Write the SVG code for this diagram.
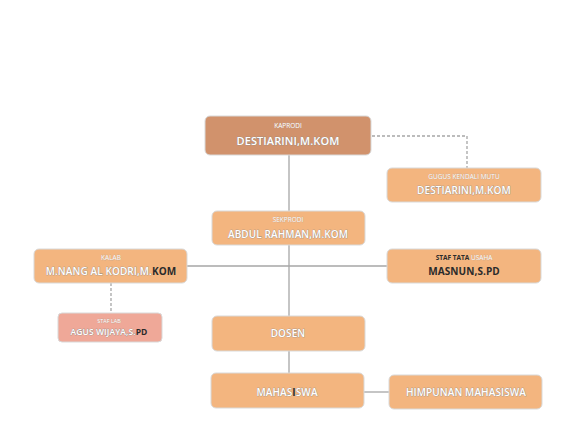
<svg xmlns="http://www.w3.org/2000/svg" width="577" height="433" viewBox="0 0 577 433">
<style>
.box{fill:#F3B57F;stroke:#D9D9D9;stroke-width:1}
.top{fill:#D1926C;stroke:#D9D9D9;stroke-width:1}
.pink{fill:#EFA898;stroke:#D9D9D9;stroke-width:1}
.lbl{font-family:"Open Sans","Liberation Sans",sans-serif;font-size:6.5px;fill:#ffffff;stroke:#b8a090;stroke-width:0.3;paint-order:stroke;text-anchor:middle}
.nm{font-family:"Open Sans","Liberation Sans",sans-serif;font-size:10px;font-weight:600;fill:#ffffff;stroke:#8a8a8a;stroke-width:0.6;paint-order:stroke;text-anchor:middle;letter-spacing:0.1px}
.dk{fill:#2b2b2b;stroke:none;font-weight:bold}
.ln{stroke:#A6A6A6;stroke-width:1.3;fill:none}
.ds{stroke:#A6A6A6;stroke-width:1.3;fill:none;stroke-dasharray:3,2}
</style>
<rect width="577" height="433" fill="#ffffff"/>
<g id="connectors">
<path class="ln" d="M289 155 V373"/>
<path class="ln" d="M187 266 H387"/>
<path class="ln" d="M364 392 H389"/>
<path class="ds" d="M372 136 H467 V168"/>
<path class="ds" d="M111 283 V313"/>
</g>
<g id="kaprodi">
<rect class="top" x="205" y="116" width="166" height="39" rx="5"/>
<text class="lbl" x="288" y="128">KAPRODI</text>
<text class="nm" x="288" y="145" style="font-size:11px">DESTIARINI,M.KOM</text>
</g>
<g id="gugus">
<rect class="box" x="387" y="168" width="154" height="34" rx="5"/>
<text class="lbl" x="464" y="179">GUGUS KENDALI MUTU</text>
<text class="nm" x="464" y="194">DESTIARINI,M.KOM</text>
</g>
<g id="sekprodi">
<rect class="box" x="212" y="211" width="153" height="34" rx="5"/>
<text class="lbl" x="288" y="222">SEKPRODI</text>
<text class="nm" x="288" y="238">ABDUL RAHMAN,M.KOM</text>
</g>
<g id="kalab">
<rect class="box" x="34" y="249" width="153" height="34" rx="5"/>
<text class="lbl" x="111" y="260">KALAB</text>
<text class="nm" x="111" y="275">M.NANG AL KODRI,M.<tspan class="dk">KOM</tspan></text>
</g>
<g id="staflab">
<rect class="pink" x="58" y="313" width="104" height="29" rx="4"/>
<text class="lbl" x="109" y="323" style="font-size:5.5px">STAF LAB</text>
<text class="nm" x="109" y="335" style="font-size:8.5px">AGUS WIJAYA,S.<tspan class="dk">PD</tspan></text>
</g>
<g id="staftu">
<rect class="box" x="387" y="249" width="154" height="34" rx="5"/>
<text class="lbl" x="464" y="260"><tspan class="dk">STAF TATA</tspan> USAHA</text>
<text class="nm" x="464" y="275"><tspan class="dk">MASNUN,S.PD</tspan></text>
</g>
<g id="dosen">
<rect class="box" x="212" y="316" width="153" height="35" rx="5"/>
<text class="nm" x="288" y="337">DOSEN</text>
</g>
<g id="mahasiswa">
<rect class="box" x="211" y="373" width="153" height="35" rx="5"/>
<text class="nm" x="287" y="396">MAHAS<tspan class="dk">I</tspan>SWA</text>
</g>
<g id="himpunan">
<rect class="box" x="389" y="375" width="153" height="34" rx="5"/>
<text class="nm" x="466" y="396">HIMPUNAN MAHASISWA</text>
</g>
</svg>
